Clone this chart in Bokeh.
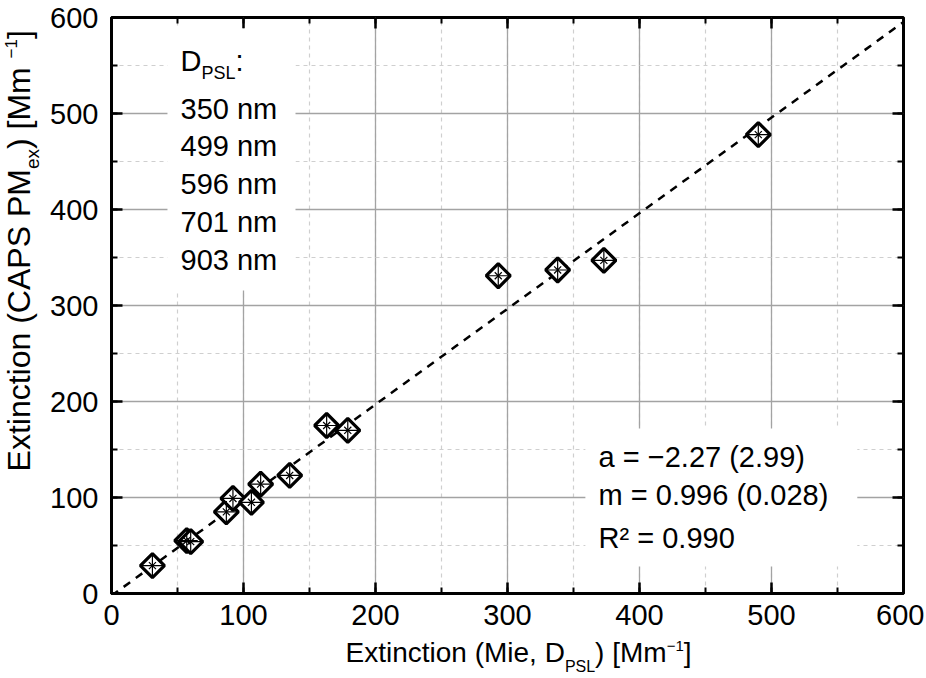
from bokeh.plotting import figure
from bokeh.models import (Label, BoxAnnotation, LinearAxis, SingleIntervalTicker, Range1d,
                          Grid, CustomLabelingPolicy)
from bokeh.layouts import column, row
from bokeh.embed import file_html
from bokeh.resources import INLINE
import math

# ---- data ----
mie_ext = [31, 57, 60, 87, 92, 106, 113, 135, 163, 179, 293, 338, 373, 490]
caps_ext = [29, 55, 54, 85, 99, 95, 114, 123, 175, 170, 331, 337, 347, 478]
diameters = ["350 nm", "499 nm", "596 nm", "701 nm", "903 nm"]
fit_a = -2.27
fit_a_err = 2.99
fit_m = 0.996
fit_m_err = 0.028
fit_r2 = 0.990
axis_ticks = [0, 100, 200, 300, 400, 500, 600]

FONT = "Liberation Sans"
FS = 29

AW = {'E': 667, 'x': 500, 't': 278, 'i': 222, 'n': 556, 'c': 500, 'o': 556, ' ': 278,
      '(': 333, ')': 333, 'M': 833, 'e': 556, ',': 278, 'D': 722, '[': 278, ']': 278,
      'm': 833, 'P': 667, 'S': 667, 'L': 556, 'A': 667, 'C': 722, '\u2212': 584,
      '1': 556, ':': 278}


def tw(s, size):
    return sum(AW.get(ch, 556) for ch in s) * size / 1000.0


YT_W = 44
MAIN_W, MAIN_H = 880, 637
XT_H = 39

p = figure(width=MAIN_W, height=MAIN_H, output_backend="svg", toolbar_location=None,
           x_range=Range1d(axis_ticks[0], axis_ticks[-1]),
           y_range=Range1d(axis_ticks[0], axis_ticks[-1]),
           min_border_left=67, min_border_right=21, min_border_top=17, min_border_bottom=44,
           x_axis_location=None, y_axis_location=None)

p.background_fill_color = "white"
p.border_fill_color = "white"
p.outline_line_color = "black"
p.outline_line_width = 3


def make_axis(show_labels, fixed=None):
    ax = LinearAxis(ticker=SingleIntervalTicker(interval=100, num_minor_ticks=2))
    ax.axis_line_color = "black"
    ax.axis_line_width = 3
    ax.major_tick_in = 11
    ax.major_tick_out = 0
    ax.minor_tick_in = 6
    ax.minor_tick_out = 0
    ax.major_tick_line_width = 2.5
    ax.minor_tick_line_width = 2
    ax.major_tick_line_color = "black"
    ax.minor_tick_line_color = "black"
    ax.major_label_text_font = FONT
    ax.major_label_text_font_size = f"{FS}px"
    ax.major_label_text_color = "black"
    if not show_labels:
        ax.major_label_policy = CustomLabelingPolicy(code="return new Set()")
        ax.major_label_standoff = 0
        ax.fixed_location = fixed
    return ax


xb = make_axis(True)
xb.major_label_standoff = 11
yl = make_axis(True)
yl.major_label_standoff = 13
p.add_layout(xb, "below")
p.add_layout(yl, "left")
p.add_layout(make_axis(False, axis_ticks[-1]), "above")
p.add_layout(make_axis(False, axis_ticks[-1]), "right")

gx = Grid(dimension=0, ticker=xb.ticker)
gy = Grid(dimension=1, ticker=yl.ticker)
for g in (gx, gy):
    g.grid_line_color = "#a3a3a3"
    g.grid_line_width = 1.3
    g.minor_grid_line_color = "#cfcfcf"
    g.minor_grid_line_width = 1.2
    g.minor_grid_line_dash = "4 4"
    p.add_layout(g)

# fit line
fit_x = [axis_ticks[0], axis_ticks[-1]]
fit_y = [fit_a + fit_m * v for v in fit_x]
p.line(fit_x, fit_y, line_color="black", line_width=2.5, line_dash="8 7")

# markers (diamond outline with thin inner cross lines)
p.scatter(mie_ext, caps_ext, marker="square", angle=math.pi / 4, size=17,
          line_color="black", line_width=3.2, fill_color="white")
p.scatter(mie_ext, caps_ext, marker="cross", size=22, line_color="black", line_width=1.2)
p.scatter(mie_ext, caps_ext, marker="x", size=10, line_color="black", line_width=1.2)

# white boxes behind texts
p.add_layout(BoxAnnotation(left=42.4, right=139.4, bottom=315.6, top=588.5,
                           fill_color="white", fill_alpha=1.0, line_color=None))
p.add_layout(BoxAnnotation(left=359, right=565, bottom=28.1, top=171.9,
                           fill_color="white", fill_alpha=1.0, line_color=None))


def rich(fig, segs, x, y, angle=0.0):
    """segs: (text, font size px, centre offset px); anchored at centre line."""
    adv = 0.0
    for text, size, shift in segs:
        if angle == 0:
            xo, yo = adv, shift
        else:
            xo, yo = -shift, adv
        fig.add_layout(Label(x=x, y=y, text=text,
                             x_offset=xo, y_offset=yo, angle=angle,
                             text_font=FONT, text_font_size=f"{size}px",
                             text_color="black", text_baseline="middle",
                             text_align="left"))
        adv += tw(text, size)


def plain(fig, text, x, y):
    fig.add_layout(Label(x=x, y=y, text=text, text_font=FONT, text_font_size=f"{FS}px",
                         text_color="black", text_baseline="middle", text_align="left"))


# legend text
rich(p, [("D", FS, 0), ("PSL", 18, -12.5), (":", FS, 0)], x=52.3, y=555)
leg_y = [504.5, 466.0, 426.4, 386.5, 347.9]
for d, yy in zip(diameters, leg_y):
    plain(p, d, 52.3, yy)

# fit statistics
stats = [f"a = \u2212{abs(fit_a):.2f} ({fit_a_err:.2f})",
         f"m = {fit_m:.3f} ({fit_m_err:.3f})",
         f"R\u00b2 = {fit_r2:.3f}"]
stats_y = [141.7, 102.1, 58.3]
for s, yy in zip(stats, stats_y):
    plain(p, s, 369, yy)


def text_fig(w, h):
    f = figure(width=w, height=h, output_backend="svg", toolbar_location=None,
               x_range=Range1d(0, w), y_range=Range1d(0, h),
               min_border=0, x_axis_location=None, y_axis_location=None)
    f.outline_line_color = None
    f.background_fill_color = "white"
    f.border_fill_color = "white"
    f.xgrid.visible = False
    f.ygrid.visible = False
    return f


# y-axis title panel (rotated, reads bottom to top)
yfig = text_fig(YT_W, MAIN_H)
rich(yfig, [("Extinction (CAPS PM", 32, 0), ("ex", 19, -14), (" ) [Mm", 32, 0),
            ("\u22121", 17, 8), ("]", 32, 0)], x=18, y=MAIN_H - 502, angle=math.pi / 2)

# x-axis title panel
xfig = text_fig(YT_W + MAIN_W, XT_H)
rich(xfig, [("Extinction (Mie, D", 28, 0), ("PSL", 16, -14), (") [Mm", 28, 0),
            ("\u22121", 15, 7), ("]", 28, 0)], x=345, y=XT_H - (652 - MAIN_H))

layout = column(row(yfig, p, spacing=0), xfig, spacing=0)
open("out.html", "w").write(file_html(layout, INLINE))
